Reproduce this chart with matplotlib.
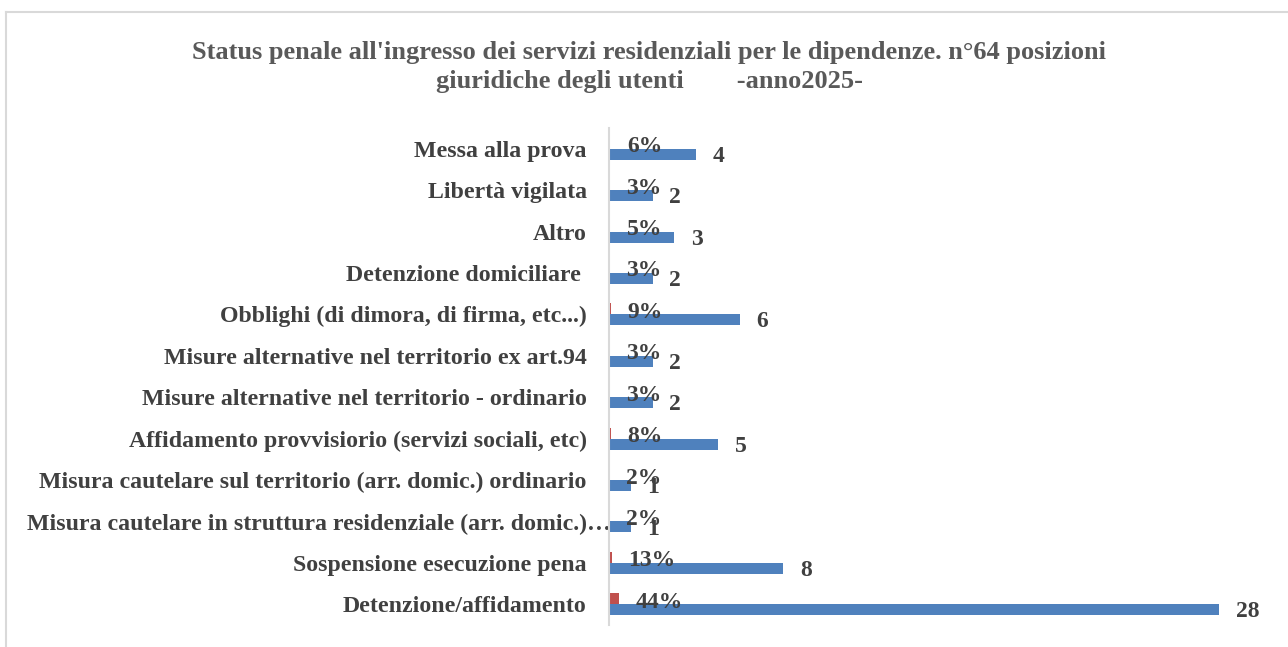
import matplotlib
matplotlib.use("Agg")
import matplotlib.pyplot as plt
from matplotlib.lines import Line2D
from matplotlib.transforms import ScaledTranslation

categories = [
    "Messa alla prova",
    "Libertà vigilata",
    "Altro",
    "Detenzione domiciliare ",
    "Obblighi (di dimora, di firma, etc...)",
    "Misure alternative nel territorio ex art.94",
    "Misure alternative nel territorio - ordinario",
    "Affidamento provvisiorio (servizi sociali, etc)",
    "Misura cautelare sul territorio (arr. domic.) ordinario",
    "Misura cautelare in struttura residenziale (arr. domic.)…",
    "Sospensione esecuzione pena",
    "Detenzione/affidamento",
]
counts = [4, 2, 3, 2, 6, 2, 2, 5, 1, 1, 8, 28]
shares = [0.06, 0.03, 0.05, 0.03, 0.09, 0.03, 0.03, 0.08, 0.02, 0.02, 0.13, 0.44]
share_labels = ["6%", "3%", "5%", "3%", "9%", "3%", "3%", "8%", "2%", "2%", "13%", "44%"]

title = ("Status penale all'ingresso dei servizi residenziali per le dipendenze. n°64 posizioni\n"
         "giuridiche degli utenti        -anno2025-")

W, H = 1288, 647
fig = plt.figure(figsize=(W / 100, H / 100), dpi=100)
ax = fig.add_axes([609 / W, 1 - 625 / H, (1265 - 609) / W, (625 - 128) / H])

serif = ["Liberation Serif", "DejaVu Serif"]
blue = "#4f81bd"
red = "#c0504d"
txt = "#404040"

y = list(range(len(categories)))
h = 0.265
ax.barh([v - h / 2 for v in y], shares, height=h, color=red, zorder=2)
ax.barh([v + h / 2 for v in y], counts, height=h, color=blue, zorder=2)

for i, (c, s, lab) in enumerate(zip(counts, shares, share_labels)):
    ax.annotate(str(c), xy=(c, i + h / 2), xytext=(12, -1.5), textcoords="offset points",
                ha="left", va="center", fontsize=17, fontweight="bold",
                family=serif, color=txt, zorder=3)
    ax.annotate(lab, xy=(s, i - h / 2), xytext=(12, -2.5), textcoords="offset points",
                ha="left", va="center", fontsize=17, fontweight="bold",
                family=serif, color=txt, zorder=3)

ax.set_xlim(0, 30.1)
ax.set_ylim(len(categories) - 0.5, -0.5)
ax.set_yticks(y)
ax.set_yticklabels(categories, fontsize=17.2, fontweight="bold", family=serif, color=txt)
ax.tick_params(axis="y", length=0, pad=16)
ax.set_xticks([])
for sp in ["top", "right", "bottom"]:
    ax.spines[sp].set_visible(False)
ax.spines["left"].set_color("#d9d9d9")
ax.spines["left"].set_linewidth(1.5)

# the truncated label reaches into the plot area, as in the reference
lbl = ax.get_yticklabels()[9]
lbl.set_transform(lbl.get_transform() + ScaledTranslation(0.24, 0, fig.dpi_scale_trans))

fig.text(649 / W, 1 - 67 / H, title, ha="center", va="center", fontsize=19,
         fontweight="bold", family=serif, color="#595959", linespacing=1.35)

# chart border
fig.add_artist(Line2D([6 / W, 1], [1 - 12 / H, 1 - 12 / H], color="#d9d9d9", lw=1.5,
                      transform=fig.transFigure))
fig.add_artist(Line2D([6 / W, 6 / W], [0, 1 - 12 / H], color="#d9d9d9", lw=1.5,
                      transform=fig.transFigure))

fig.savefig("out.png", dpi=100)
